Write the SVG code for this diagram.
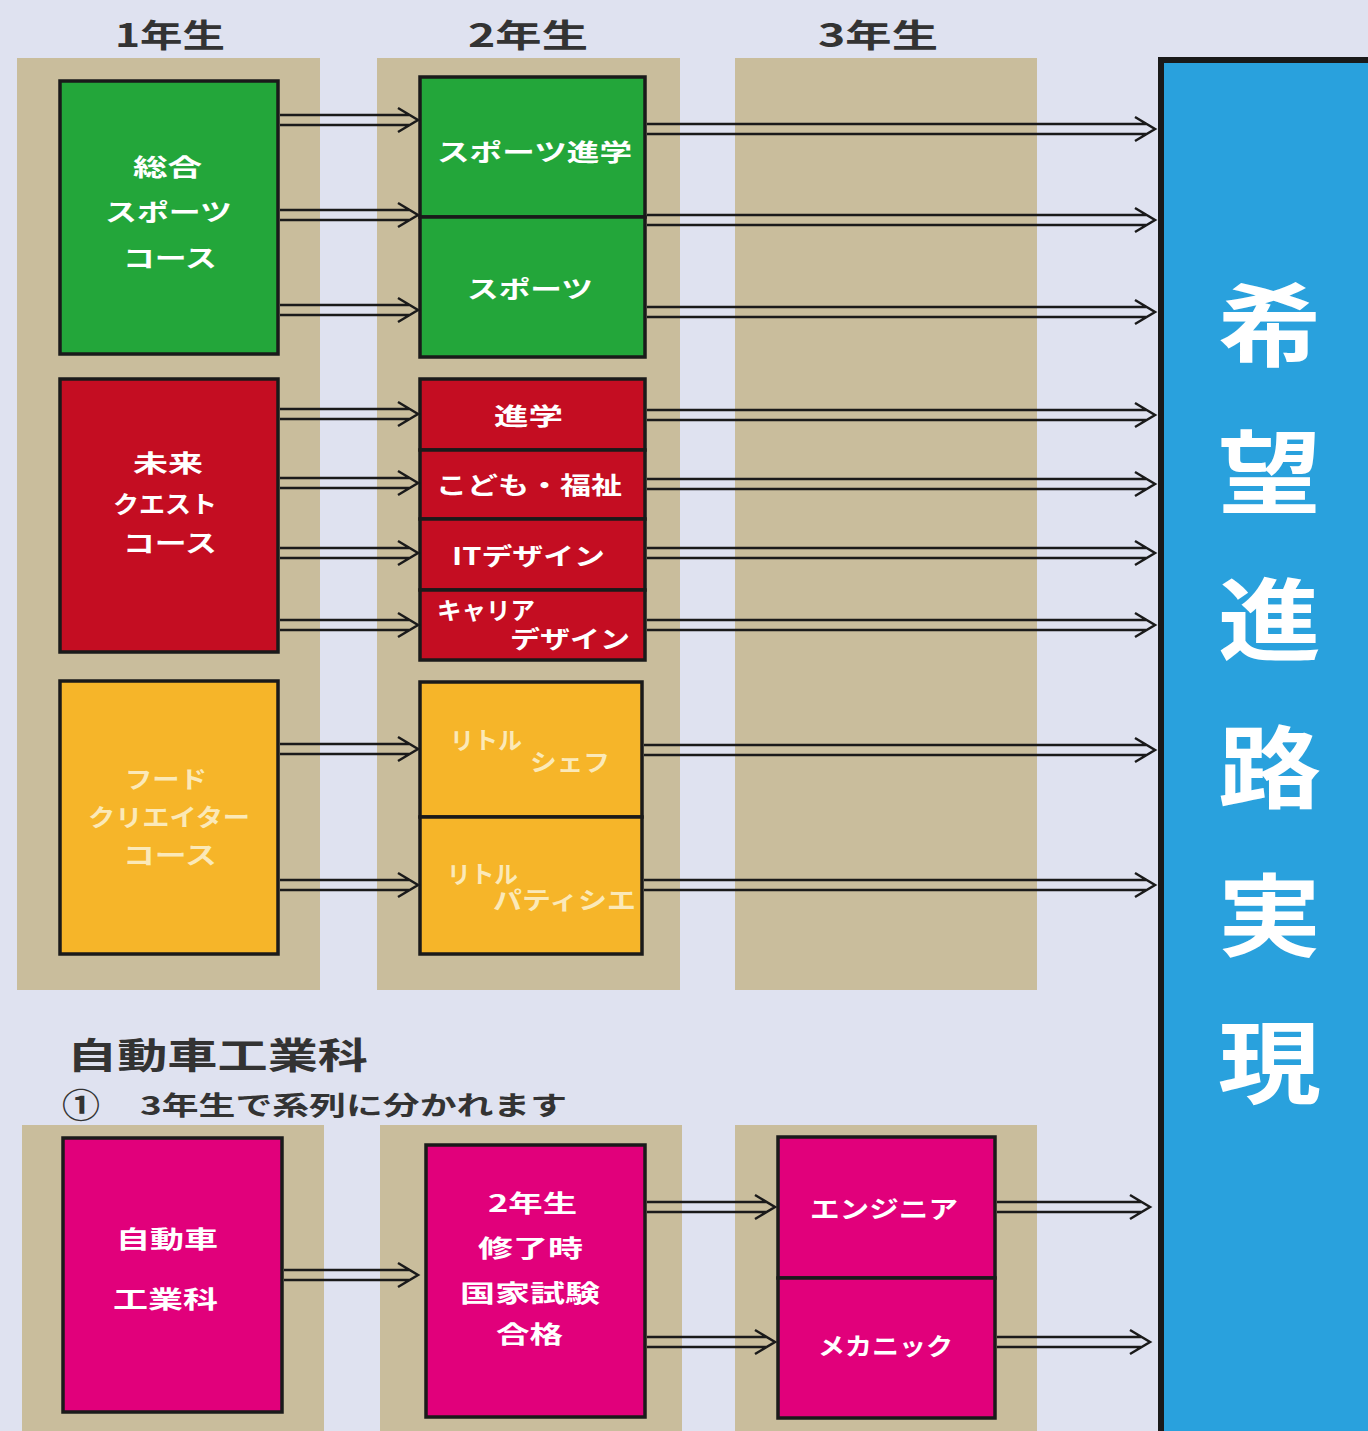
<svg xmlns="http://www.w3.org/2000/svg" width="1368" height="1431" viewBox="0 0 1368 1431">
<style>
.bg{fill:#dfe2f0}
.panel{fill:#c9bd9c}
.box{stroke:#1a1a1a;stroke-width:3.5}
.g{fill:#23a63a}.r{fill:#c40d22}.o{fill:#f6b529}.m{fill:#e1007b}.b{fill:#29a1dd}
.t{font-family:"Noto Sans CJK JP","Noto Sans",sans-serif;font-weight:bold;fill:#fff;font-size:24px;dominant-baseline:central}
.to{fill:#fbe9b8}
.h{font-family:"Noto Sans CJK JP","Noto Sans",sans-serif;font-weight:bold;fill:#333;font-size:32px;dominant-baseline:central}
.big{font-family:"Noto Sans CJK JP","Noto Sans",sans-serif;font-weight:bold;fill:#fff;font-size:90px;dominant-baseline:central}
.arr{fill:none;stroke:#1a1a1a;stroke-width:2.5;stroke-linejoin:miter}
</style>
<rect class="bg" x="0" y="0" width="1368" height="1431"/>
<g id="panels">
<rect class="panel" x="17" y="58" width="303" height="932"/>
<rect class="panel" x="377" y="58" width="303" height="932"/>
<rect class="panel" x="735" y="58" width="302" height="932"/>
<rect class="panel" x="22" y="1125" width="302" height="310"/>
<rect class="panel" x="380" y="1125" width="302" height="310"/>
<rect class="panel" x="735" y="1125" width="302" height="310"/>
</g>
<g id="headers">
<text class="h" x="115" y="33" textLength="110" lengthAdjust="spacingAndGlyphs">1年生</text>
<text class="h" x="468" y="33" textLength="120" lengthAdjust="spacingAndGlyphs">2年生</text>
<text class="h" x="818" y="33" textLength="120" lengthAdjust="spacingAndGlyphs">3年生</text>
</g>
<g id="n-sogo">
<rect class="box g" x="60" y="81" width="218" height="273"/>
<text class="t" x="133" y="165" textLength="69" lengthAdjust="spacingAndGlyphs">総合</text>
<text class="t" x="105" y="210" textLength="127" lengthAdjust="spacingAndGlyphs">スポーツ</text>
<text class="t" x="123" y="256" textLength="94" lengthAdjust="spacingAndGlyphs">コース</text>
</g>
<g id="n-sports-shingaku">
<rect class="box g" x="420" y="77" width="225" height="140"/>
<text class="t" x="437" y="150" textLength="195" lengthAdjust="spacingAndGlyphs">スポーツ進学</text>
</g>
<g id="n-sports">
<rect class="box g" x="420" y="217" width="225" height="140"/>
<text class="t" x="467" y="287" textLength="126" lengthAdjust="spacingAndGlyphs">スポーツ</text>
</g>
<g id="n-mirai">
<rect class="box r" x="60" y="379" width="218" height="273"/>
<text class="t" x="133" y="461" textLength="70" lengthAdjust="spacingAndGlyphs">未来</text>
<text class="t" x="113" y="502" textLength="104" lengthAdjust="spacingAndGlyphs">クエスト</text>
<text class="t" x="123" y="541" textLength="94" lengthAdjust="spacingAndGlyphs">コース</text>
</g>
<g id="n-shingaku">
<rect class="box r" x="420" y="379" width="225" height="71"/>
<text class="t" x="494" y="414" textLength="69" lengthAdjust="spacingAndGlyphs">進学</text>
</g>
<g id="n-kodomo">
<rect class="box r" x="420" y="450" width="225" height="69"/>
<text class="t" x="436" y="483" textLength="186" lengthAdjust="spacingAndGlyphs">こども・福祉</text>
</g>
<g id="n-it">
<rect class="box r" x="420" y="519" width="225" height="71"/>
<text class="t" x="452" y="554" textLength="153" lengthAdjust="spacingAndGlyphs">ITデザイン</text>
</g>
<g id="n-career">
<rect class="box r" x="420" y="590" width="225" height="70"/>
<text class="t" x="437" y="608" textLength="98" lengthAdjust="spacingAndGlyphs">キャリア</text>
<text class="t" x="510" y="637" textLength="120" lengthAdjust="spacingAndGlyphs">デザイン</text>
</g>
<g id="n-food">
<rect class="box o" x="60" y="681" width="218" height="273"/>
<text class="t to" x="125" y="777" textLength="82" lengthAdjust="spacingAndGlyphs">フード</text>
<text class="t to" x="88" y="815" textLength="162" lengthAdjust="spacingAndGlyphs">クリエイター</text>
<text class="t to" x="123" y="853" textLength="94" lengthAdjust="spacingAndGlyphs">コース</text>
</g>
<g id="n-chef">
<rect class="box o" x="420" y="682" width="222" height="135"/>
<text class="t to" x="450" y="738" textLength="72" lengthAdjust="spacingAndGlyphs">リトル</text>
<text class="t to" x="530" y="760" textLength="80" lengthAdjust="spacingAndGlyphs">シェフ</text>
</g>
<g id="n-patissier">
<rect class="box o" x="420" y="817" width="222" height="137"/>
<text class="t to" x="447" y="872" textLength="71" lengthAdjust="spacingAndGlyphs">リトル</text>
<text class="t to" x="493" y="898" textLength="143" lengthAdjust="spacingAndGlyphs">パティシエ</text>
</g>
<g id="n-kibou">
<rect x="1161" y="60" width="215" height="1380" class="b" stroke="#1a1a1a" stroke-width="6"/>
<text class="big" x="1218" y="320" textLength="103" lengthAdjust="spacingAndGlyphs">希</text>
<text class="big" x="1218" y="467" textLength="103" lengthAdjust="spacingAndGlyphs">望</text>
<text class="big" x="1218" y="614" textLength="103" lengthAdjust="spacingAndGlyphs">進</text>
<text class="big" x="1218" y="762" textLength="103" lengthAdjust="spacingAndGlyphs">路</text>
<text class="big" x="1218" y="910" textLength="103" lengthAdjust="spacingAndGlyphs">実</text>
<text class="big" x="1218" y="1057" textLength="103" lengthAdjust="spacingAndGlyphs">現</text>
</g>
<g id="section-title">
<text class="h" x="67" y="1053" style="font-size:36px;font-weight:600" textLength="301" lengthAdjust="spacingAndGlyphs">自動車工業科</text>
<text class="h" x="62" y="1103" style="font-size:34px;font-weight:600" textLength="38" lengthAdjust="spacingAndGlyphs">①</text>
<text class="h" x="140" y="1103" style="font-size:26px;font-weight:600" textLength="427" lengthAdjust="spacingAndGlyphs">3年生で系列に分かれます</text>
</g>
<g id="n-jidosha">
<rect class="box m" x="63" y="1138" width="219" height="274"/>
<text class="t" x="116" y="1237" textLength="102" lengthAdjust="spacingAndGlyphs">自動車</text>
<text class="t" x="113" y="1297" textLength="105" lengthAdjust="spacingAndGlyphs">工業科</text>
</g>
<g id="n-kokka">
<rect class="box m" x="426" y="1145" width="219" height="272"/>
<text class="t" x="488" y="1201" textLength="89" lengthAdjust="spacingAndGlyphs">2年生</text>
<text class="t" x="478" y="1246" textLength="105" lengthAdjust="spacingAndGlyphs">修了時</text>
<text class="t" x="460" y="1291" textLength="140" lengthAdjust="spacingAndGlyphs">国家試験</text>
<text class="t" x="496" y="1332" textLength="67" lengthAdjust="spacingAndGlyphs">合格</text>
</g>
<g id="n-engineer">
<rect class="box m" x="778" y="1137" width="217" height="141"/>
<text class="t" x="810" y="1207" textLength="148" lengthAdjust="spacingAndGlyphs">エンジニア</text>
</g>
<g id="n-mechanic">
<rect class="box m" x="778" y="1278" width="217" height="140"/>
<text class="t" x="818" y="1344" textLength="135" lengthAdjust="spacingAndGlyphs">メカニック</text>
</g>
<g id="connectors" class="arr">
<path d="M280 115H410M280 125H410M398 108L418 120L398 132"/>
<path d="M280 210H410M280 220H410M398 203L418 215L398 227"/>
<path d="M280 305H410M280 315H410M398 298L418 310L398 322"/>
<path d="M280 409H410M280 419H410M398 402L418 414L398 426"/>
<path d="M280 478H410M280 488H410M398 471L418 483L398 495"/>
<path d="M280 548H410M280 558H410M398 541L418 553L398 565"/>
<path d="M280 620H410M280 630H410M398 613L418 625L398 637"/>
<path d="M280 744H410M280 754H410M398 737L418 749L398 761"/>
<path d="M280 880H410M280 890H410M398 873L418 885L398 897"/>
<path d="M647 124H1147M647 134H1147M1135 117L1155 129L1135 141"/>
<path d="M647 215H1147M647 225H1147M1135 208L1155 220L1135 232"/>
<path d="M647 307H1147M647 317H1147M1135 300L1155 312L1135 324"/>
<path d="M647 410H1147M647 420H1147M1135 403L1155 415L1135 427"/>
<path d="M647 479H1147M647 489H1147M1135 472L1155 484L1135 496"/>
<path d="M647 548H1147M647 558H1147M1135 541L1155 553L1135 565"/>
<path d="M647 620H1147M647 630H1147M1135 613L1155 625L1135 637"/>
<path d="M644 745H1147M644 755H1147M1135 738L1155 750L1135 762"/>
<path d="M644 880H1147M644 890H1147M1135 873L1155 885L1135 897"/>
<path d="M284 1270H410M284 1280H410M398 1263L418 1275L398 1287"/>
<path d="M647 1202H767M647 1212H767M755 1195L775 1207L755 1219"/>
<path d="M647 1337H767M647 1347H767M755 1330L775 1342L755 1354"/>
<path d="M997 1202H1142M997 1212H1142M1130 1195L1150 1207L1130 1219"/>
<path d="M997 1337H1142M997 1347H1142M1130 1330L1150 1342L1130 1354"/>
</g>
</svg>
